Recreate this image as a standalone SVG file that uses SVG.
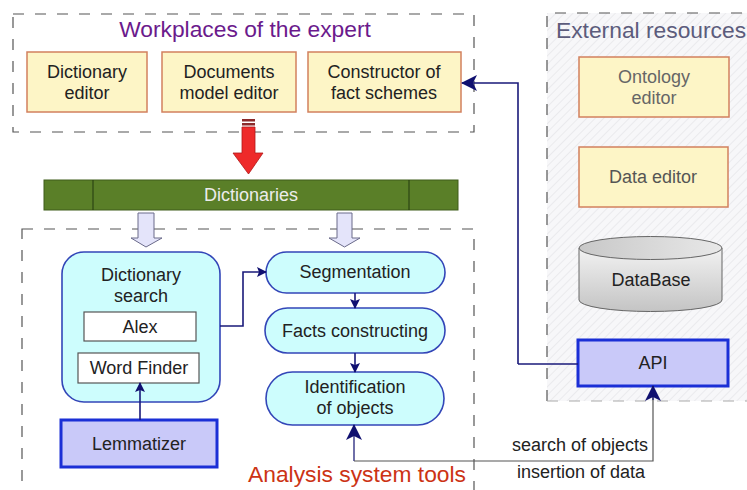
<svg xmlns="http://www.w3.org/2000/svg" width="747" height="490" viewBox="0 0 747 490">
<defs>
<style>
text{font-family:"Liberation Sans",Arial,sans-serif;font-size:18px;fill:#222;text-anchor:middle}
.title{font-size:22.8px}
.dash{fill:none;stroke:#555;stroke-width:1.2;stroke-dasharray:11 11}
.ybox{fill:#fdf5c6;stroke:#d2805e;stroke-width:1.5}
.cyan{fill:#cdfdfd;stroke:#3346b8;stroke-width:1.6}
.white{fill:#fff;stroke:#555;stroke-width:1.2}
.blue{fill:#c9c9f9;stroke:#1b2fd6;stroke-width:3}
.conn{fill:none;stroke:#1a1a7a;stroke-width:1.6}
.hollow{fill:#e4e4fa;stroke:#6a6a8a;stroke-width:1}
</style>
<marker id="ah" markerWidth="10" markerHeight="10" refX="9" refY="5" orient="auto" markerUnits="userSpaceOnUse">
<path d="M0,0 L10,5 L0,10 L2,5 Z" fill="#101070"/>
</marker>
<marker id="ahbig" markerWidth="16" markerHeight="16" refX="15" refY="8" orient="auto" markerUnits="userSpaceOnUse">
<path d="M0,0 L16,8 L0,16 L4,8 Z" fill="#101070"/>
</marker>
<pattern id="hatch" width="6" height="6" patternUnits="userSpaceOnUse" patternTransform="rotate(45)">
<rect width="6" height="6" fill="#f7f7f9"/>
<line x1="0" y1="0" x2="0" y2="6" stroke="#e6e6ea" stroke-width="1.5"/>
</pattern>
<linearGradient id="cyl" x1="0" y1="0" x2="0" y2="1">
<stop offset="0" stop-color="#f2f2f2"/>
<stop offset="1" stop-color="#c4c4c4"/>
</linearGradient>
<linearGradient id="cyltop" x1="0" y1="0" x2="1" y2="0">
<stop offset="0" stop-color="#c8c8c8"/>
<stop offset="1" stop-color="#e8e8e8"/>
</linearGradient>
</defs>
<rect width="747" height="490" fill="#fff"/>

<g id="external-resources">
<rect x="547" y="13" width="220" height="388" fill="url(#hatch)"/>
<path d="M547,401 V13 H760" class="dash"/>
<path d="M547,401 H760" fill="none" stroke="#aaa" stroke-width="1.2" stroke-dasharray="11 11"/>
<text x="556" y="38" class="title" style="text-anchor:start;fill:#5c5c7c">External resources</text>
</g>

<g id="workplaces">
<rect x="13" y="14" width="461" height="118" class="dash"/>
<text x="245" y="37" class="title" style="fill:#6b1a8c">Workplaces of the expert</text>
</g>

<g id="analysis-tools">
<rect x="22" y="229" width="452" height="290" class="dash"/>
<text x="357" y="482" class="title" style="fill:#cc3314">Analysis system tools</text>
</g>

<g id="dictionary-editor">
<rect x="27" y="52" width="120" height="60" class="ybox"/>
<text x="87" y="78">Dictionary</text>
<text x="87" y="99">editor</text>
</g>
<g id="documents-model-editor">
<rect x="162" y="52" width="134" height="60" class="ybox"/>
<text x="229" y="78">Documents</text>
<text x="229" y="99">model editor</text>
</g>
<g id="constructor">
<rect x="308" y="52" width="153" height="60" class="ybox"/>
<text x="384" y="78">Constructor of</text>
<text x="384" y="99">fact schemes</text>
</g>

<g id="ontology-editor">
<rect x="579" y="57" width="150" height="60" class="ybox"/>
<text x="654" y="83" style="fill:#666">Ontology</text>
<text x="654" y="104" style="fill:#666">editor</text>
</g>
<g id="data-editor">
<rect x="579" y="147" width="149" height="60" class="ybox"/>
<text x="653" y="183" style="fill:#555">Data editor</text>
</g>
<g id="database">
<path d="M579,248 V300 A71.5,11.5 0 0 0 722,300 V248" fill="url(#cyl)" stroke="#666" stroke-width="1"/>
<ellipse cx="650.5" cy="248" rx="71.5" ry="11.5" fill="url(#cyltop)" stroke="#666" stroke-width="1"/>
<text x="651" y="286">DataBase</text>
</g>
<g id="api">
<rect x="578" y="340" width="150" height="46" class="blue"/>
<text x="653" y="369">API</text>
</g>

<g id="red-arrow">
<rect x="242" y="119" width="13" height="2.5" fill="#8b2a2a"/>
<rect x="242" y="123" width="13" height="2.5" fill="#8b2a2a"/>
<path d="M242,127 H255 V153 H263 L248.5,174 L233,153 H242 Z" fill="#ee2a2a" stroke="#b01818" stroke-width="0.8"/>
</g>

<g id="dictionaries">
<rect x="44" y="180" width="414" height="30" fill="#5a7f28" stroke="#3f5c1a" stroke-width="1"/>
<line x1="93" y1="180" x2="93" y2="210" stroke="#233a0e" stroke-width="1"/>
<line x1="409" y1="180" x2="409" y2="210" stroke="#233a0e" stroke-width="1"/>
<text x="251" y="201" style="fill:#ececec">Dictionaries</text>
</g>

<g id="hollow-arrows">
<path d="M138,213 H154 V238 H162 L146,247 L131,238 H138 Z" class="hollow"/>
<path d="M337,213 H352 V238 H360 L344.5,247 L329,238 H337 Z" class="hollow"/>
</g>

<g id="dictionary-search">
<rect x="62" y="252" width="158" height="150" rx="22" class="cyan"/>
<text x="141" y="281">Dictionary</text>
<text x="141" y="302">search</text>
</g>
<g id="alex">
<rect x="84" y="312" width="112" height="29" class="white"/>
<text x="140" y="333">Alex</text>
</g>
<g id="word-finder">
<rect x="78" y="353" width="121" height="30" class="white"/>
<text x="139" y="374">Word Finder</text>
</g>
<g id="lemmatizer">
<rect x="61" y="420" width="156" height="47" class="blue"/>
<text x="139" y="450">Lemmatizer</text>
</g>

<g id="segmentation">
<rect x="266" y="252" width="179" height="41" rx="20.5" class="cyan"/>
<text x="355" y="278">Segmentation</text>
</g>
<g id="facts-constructing">
<rect x="265" y="308" width="180" height="45" rx="22.5" class="cyan"/>
<text x="355" y="337">Facts constructing</text>
</g>
<g id="identification">
<rect x="266" y="372" width="178" height="53" rx="26.5" class="cyan"/>
<text x="355" y="393">Identification</text>
<text x="355" y="414">of objects</text>
</g>

<g id="connectors">
<path d="M518,364 H578" class="conn"/>
<path d="M518,364 V83 H462" class="conn" marker-end="url(#ahbig)"/>
<path d="M220,326 H243 V272 H266" class="conn" marker-end="url(#ah)"/>
<path d="M140,420 V383" class="conn" marker-end="url(#ah)"/>
<path d="M355,293 V308" class="conn" marker-end="url(#ah)"/>
<path d="M355,353 V372" class="conn" marker-end="url(#ah)"/>
<path d="M354,461 V425" fill="none" stroke="#101070" stroke-width="1.2" marker-end="url(#ahbig)"/>
<path d="M354,461 H653 V386" fill="none" stroke="#555" stroke-width="1.2"/>
<path d="M653,400 V386" fill="none" stroke="#101070" stroke-width="1.2" marker-end="url(#ahbig)"/>
<text x="648" y="451" style="text-anchor:end">search of objects</text>
<text x="645" y="478" style="text-anchor:end">insertion of data</text>
</g>
</svg>
